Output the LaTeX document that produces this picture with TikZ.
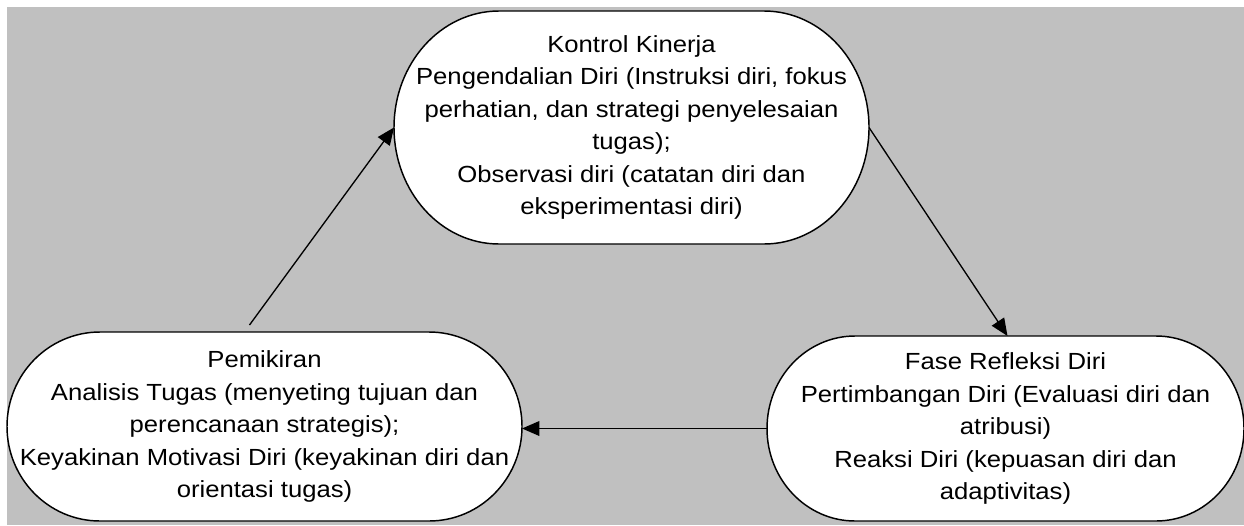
\documentclass[tikz,border=0pt]{standalone}
\usepackage{fontspec}
\setmainfont{Liberation Sans}[FakeStretch=1.1]
\usepackage{xcolor}
\usepackage{tikz}
\usetikzlibrary{shapes,arrows.meta,positioning,calc,backgrounds}

\definecolor{bggray}{HTML}{C0C0C0}

% white capsule behind a named node: name, x radius, y radius (px)
\newcommand{\phaseshape}[3]{%
  \draw[line width=1.1pt, fill=white]
    ([xshift=#2*0.75pt]#1.north west) -- ([xshift=-#2*0.75pt]#1.north east)
    arc[start angle=90, end angle=-90, x radius=#2*0.75pt, y radius=#3*0.75pt]
    -- ([xshift=#2*0.75pt]#1.south west)
    arc[start angle=270, end angle=90, x radius=#2*0.75pt, y radius=#3*0.75pt]
    -- cycle;}

\begin{document}
\begin{tikzpicture}[x=0.75pt,y=-0.75pt,
    phase/.style={rectangle, align=center, inner sep=0pt, outer sep=0pt,
        font=\fontsize{17.5}{24.4}\selectfont},
    arr/.style={-{Triangle[length=13pt,width=11pt]}, line width=1pt}]
    \useasboundingbox (0,0) rectangle (1244,525);

    \node (kontrol) [phase, minimum width=475*0.75pt, minimum height=233*0.75pt] at (631.5,127.5)
        {Kontrol Kinerja\\Pengendalian Diri (Instruksi diri, fokus\\perhatian, dan strategi penyelesaian\\tugas);\\Observasi diri (catatan diri dan\\eksperimentasi diri)};
    \node (pemikiran) [phase, minimum width=515*0.75pt, minimum height=189*0.75pt] at (264.5,426.5)
        {Pemikiran\\Analisis Tugas (menyeting tujuan dan\\perencanaan strategis);\\Keyakinan Motivasi Diri (keyakinan diri dan\\orientasi tugas)};
    \node (refleksi) [phase, minimum width=477*0.75pt, minimum height=185*0.75pt] at (1005.5,428.5)
        {Fase Refleksi Diri\\Pertimbangan Diri (Evaluasi diri dan\\atribusi)\\Reaksi Diri (kepuasan diri dan\\adaptivitas)};

    \begin{pgfonlayer}{background}
        \fill[bggray] (7,7) rectangle (1244,525);
        \phaseshape{kontrol}{105}{116.5}
        \phaseshape{pemikiran}{93}{94.5}
        \phaseshape{refleksi}{88}{92.5}
    \end{pgfonlayer}

    \draw [arr] ([shift={(-15,-7)}]pemikiran.north) -- (kontrol.west);
    \draw [arr] (kontrol.east) -- ([xshift=2*0.75pt]refleksi.north);
    \draw [arr] (refleksi.west) -- (pemikiran.east |- refleksi.west);
\end{tikzpicture}
\end{document}
